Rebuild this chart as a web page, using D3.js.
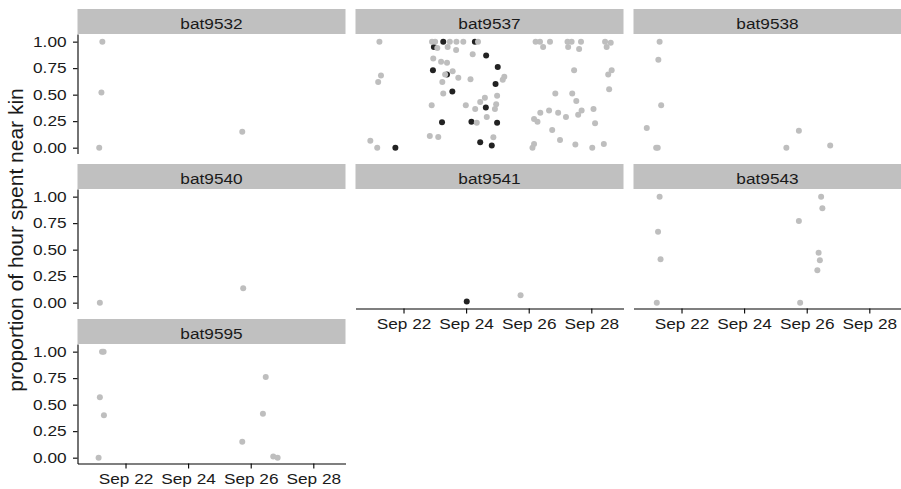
<!DOCTYPE html>
<html>
<head>
<meta charset="utf-8">
<script src="https://cdn.jsdelivr.net/npm/d3@7"></script>
<style>
  html, body { margin: 0; padding: 0; background: #ffffff; }
  svg { display: block; }
  text { font-family: "Liberation Sans", Arial, Helvetica, sans-serif; }
</style>
</head>
<body>
<svg id="chart" width="901" height="489"></svg>
<script>
// ---------------- DATA (day = day of September 2019, decimal) ----------------
const bats = ["bat9532", "bat9537", "bat9538", "bat9540", "bat9541", "bat9543", "bat9595"];

const otherDay9532  = [21.26, 21.23, 21.16, 25.73];
const otherProp9532 = [1.00, 0.52, 0.00, 0.15];

const otherDay9537 = [21.23, 22.91, 23.01, 23.08, 22.95, 23.20, 21.28, 21.19, 23.33, 23.24,
  23.27, 22.90, 22.84, 23.11, 20.94, 21.16, 23.48, 23.69, 23.91, 24.38,
  23.41, 23.68, 24.21, 23.39, 23.57, 23.75, 24.14, 25.22, 25.17, 24.99,
  24.60, 23.99, 24.45, 24.29, 24.96, 24.92, 24.66, 24.34, 24.87, 26.22,
  26.36, 26.68, 27.24, 27.37, 27.67, 28.44, 28.62, 26.46, 27.26, 27.61,
  28.49, 27.45, 28.65, 28.54, 28.57, 26.85, 27.39, 27.52, 28.07, 26.37,
  26.65, 26.94, 27.19, 27.69, 27.58, 26.17, 26.28, 28.12, 26.75, 27.00,
  26.17, 26.12, 27.49, 28.03, 28.40];
const otherProp9537 = [1.00, 1.00, 1.00, 0.94, 0.84, 0.81, 0.68, 0.62, 0.69, 0.62,
  0.51, 0.40, 0.11, 0.10, 0.066, 0.00, 1.00, 1.00, 1.00, 1.00,
  0.95, 0.92, 0.88, 0.80, 0.72, 0.66, 0.645, 0.67, 0.64, 0.49,
  0.47, 0.40, 0.43, 0.365, 0.41, 0.365, 0.29, 0.236, 0.098, 1.00,
  1.00, 1.00, 1.00, 1.00, 1.00, 1.00, 0.99, 0.95, 0.95, 0.93,
  0.95, 0.73, 0.73, 0.69, 0.55, 0.51, 0.51, 0.44, 0.365, 0.33,
  0.35, 0.33, 0.29, 0.35, 0.31, 0.27, 0.245, 0.23, 0.167, 0.073,
  0.035, 0.00, 0.03, 0.00, 0.035];
const kinDay9537  = [23.27, 22.97, 22.94, 23.39, 23.23, 21.74, 24.28, 24.64, 25.01, 24.94,
  23.56, 24.63, 24.17, 24.99, 24.45, 24.82];
const kinProp9537 = [1.00, 0.95, 0.73, 0.69, 0.24, 0.00, 1.00, 0.87, 0.76, 0.60,
  0.53, 0.38, 0.245, 0.236, 0.05, 0.02];

const otherDay9538  = [21.30, 21.26, 21.35, 20.89, 21.19, 21.24, 25.75, 25.35, 26.75];
const otherProp9538 = [1.00, 0.83, 0.40, 0.186, 0.00, 0.00, 0.16, 0.00, 0.02];

const otherDay9540  = [21.18, 25.76];
const otherProp9540 = [0.00, 0.135];

const otherDay9541  = [25.74];
const otherProp9541 = [0.07];
const kinDay9541  = [24.02];
const kinProp9541 = [0.01];

const otherDay9543  = [21.30, 21.25, 21.33, 21.21, 26.46, 26.50, 25.75, 26.38, 26.42, 26.34, 25.79];
const otherProp9543 = [1.00, 0.67, 0.41, 0.00, 1.00, 0.89, 0.77, 0.47, 0.40, 0.305, 0.00];

const otherDay9595  = [21.25, 21.30, 21.18, 21.31, 21.14, 25.73, 26.48, 26.39, 26.72, 26.86];
const otherProp9595 = [1.00, 1.00, 0.57, 0.40, 0.00, 0.15, 0.76, 0.415, 0.01, 0.00];

const yTicks = [0, 0.25, 0.5, 0.75, 1];
const xTickDays = [22, 24, 26, 28];
const yTitle = "proportion of hour spent near kin";

// ---------------- BUILD ----------------
const toDate = d => new Date(2019, 8, 1 + Math.floor(d) - 1, 0, 0, 0, 0).getTime() + (d - Math.floor(d)) * 864e5;
function pts(days, props, kin) { return days.map((d, i) => ({ t: new Date(toDate(d)), p: props[i], kin })); }

const panelData = {
  bat9532: pts(otherDay9532, otherProp9532, 0),
  bat9537: pts(kinDay9537, kinProp9537, 1).concat(pts(otherDay9537, otherProp9537, 0)),
  bat9538: pts(otherDay9538, otherProp9538, 0),
  bat9540: pts(otherDay9540, otherProp9540, 0),
  bat9541: pts(kinDay9541, kinProp9541, 1).concat(pts(otherDay9541, otherProp9541, 0)),
  bat9543: pts(otherDay9543, otherProp9543, 0),
  bat9595: pts(otherDay9595, otherProp9595, 0)
};

const svg = d3.select("#chart");
const colLeft = [77.5, 355.5, 633.5];
const rowTop = [9, 164, 319];
const panelW = 268, stripH = 25, panelH = 119.5;
const sx = 1.15; // horizontal glyph stretch of the reference

const x = d3.scaleTime()
  .domain([new Date(toDate(20.466)), new Date(toDate(20.466 + panelW / 31.3))])
  .range([0, panelW]);
const y = d3.scaleLinear().domain([-0.055, 1.072]).range([panelH, 0]);

const color = k => k ? "#222222" : "#bebebe";
const nCols = 3;

bats.forEach((b, i) => {
  const c = i % nCols, r = Math.floor(i / nCols);
  const g = svg.append("g").attr("transform", `translate(${colLeft[c]},${rowTop[r]})`);
  // strip
  g.append("rect").attr("x", 0).attr("y", 0).attr("width", panelW).attr("height", stripH)
    .attr("fill", "#c0c0c0");
  g.append("text")
    .attr("transform", `translate(${panelW / 2},${stripH - 5.5}) scale(${sx},1)`)
    .attr("text-anchor", "middle").attr("font-size", 15).attr("fill", "#1a1a1a").text(b);

  const p = g.append("g").attr("transform", `translate(0,${stripH})`);
  p.selectAll("circle").data(panelData[b]).join("circle")
    .attr("cx", d => x(d.t)).attr("cy", d => y(d.p)).attr("r", 3)
    .attr("fill", d => color(d.kin));

  // y axis on first column
  if (c === 0) {
    const ya = p.append("g").call(d3.axisLeft(y).tickValues(yTicks).tickFormat(d3.format(".2f"))
      .tickSize(4.5).tickPadding(5).tickSizeOuter(0));
    ya.select(".domain").attr("stroke", "#000").attr("stroke-width", 1.1);
    ya.selectAll(".tick line").attr("stroke", "#000").attr("stroke-width", 1.1);
    ya.selectAll("text").attr("font-size", 15).attr("fill", "#1a1a1a")
      .attr("font-family", "'Liberation Sans', Arial, Helvetica, sans-serif")
      .attr("transform", `scale(${sx},1)`);
  }
  // x axis on bottom-most panel of each column
  const below = i + nCols;
  if (below >= bats.length) {
    const xa = p.append("g").attr("transform", `translate(0,${panelH})`)
      .call(d3.axisBottom(x).tickValues(xTickDays.map(d => new Date(toDate(d))))
        .tickFormat(d3.timeFormat("%b %d")).tickSize(5).tickPadding(4.5).tickSizeOuter(0));
    xa.select(".domain").attr("stroke", "#000").attr("stroke-width", 1.1);
    xa.selectAll(".tick line").attr("stroke", "#000").attr("stroke-width", 1.1);
    xa.selectAll("text").attr("font-size", 15).attr("fill", "#1a1a1a")
      .attr("font-family", "'Liberation Sans', Arial, Helvetica, sans-serif")
      .attr("transform", `scale(${sx},1)`);
  }
});

svg.append("text")
  .attr("transform", "translate(23,240) rotate(-90)")
  .attr("text-anchor", "middle").attr("font-size", 21).attr("fill", "#1a1a1a")
  .text(yTitle);
</script>
</body>
</html>
